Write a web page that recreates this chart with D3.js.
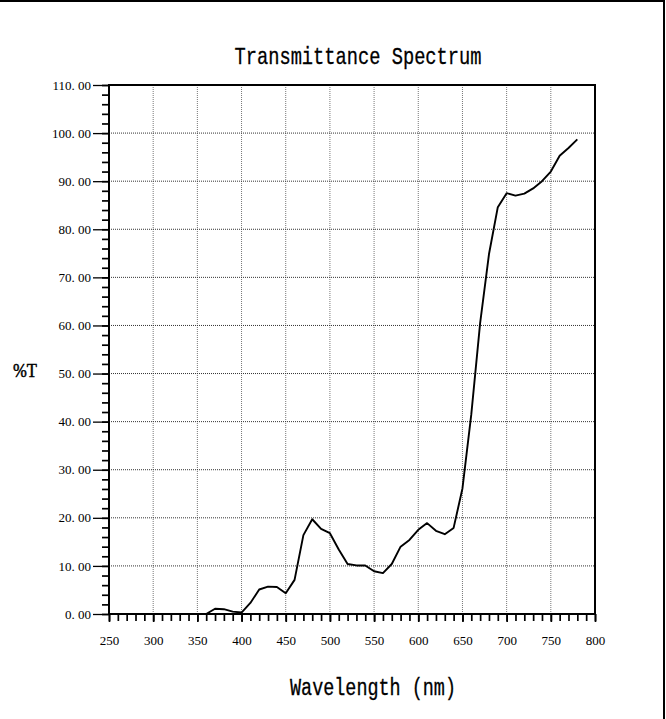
<!DOCTYPE html>
<html>
<head>
<meta charset="utf-8">
<script src="https://cdn.jsdelivr.net/npm/d3@7"></script>
<style>
  body { margin: 0; background: #fff; }
  text { fill: #000; }
  .label { font-family: "Liberation Mono", "DejaVu Sans Mono", monospace; }
  .tick text { font-family: "Liberation Serif", "DejaVu Serif", serif; }
</style>
</head>
<body>
<svg id="chart" width="666" height="719"></svg>
<script>
// =====================
// Data (wavelength in nm, transmittance in %)
// =====================
const wavelengths = [250, 260, 270, 280, 290, 300, 310, 320, 330, 340, 350, 360, 370, 380, 390,
  400, 410, 420, 430, 440, 450, 460, 470, 480, 490, 500, 510, 520, 530, 540, 550, 560, 570,
  580, 590, 600, 610, 620, 630, 640, 650, 660, 670, 680, 690, 700, 710, 720, 730, 740, 750,
  760, 770, 780];
const transmittance = [0, 0, 0, 0, 0, 0, 0, 0, 0, 0, 0, 0, 1.1, 1.0, 0.5,
  0.3, 2.3, 5.1, 5.7, 5.6, 4.3, 7.1, 16.4, 19.7, 17.7, 16.8, 13.4, 10.4, 10.1, 10.1, 8.9, 8.5, 10.4,
  14.0, 15.4, 17.5, 18.9, 17.3, 16.6, 17.9, 26.1, 41.5, 60.5, 74.8, 84.6, 87.5, 87.0, 87.4, 88.5, 90.0, 92.0,
  95.3, 96.9, 98.7];
const xTickValues = [250, 300, 350, 400, 450, 500, 550, 600, 650, 700, 750, 800];
const yTickValues = [0, 10, 20, 30, 40, 50, 60, 70, 80, 90, 100, 110];

const
  title = "Transmittance Spectrum",
  xLabel = "Wavelength (nm)",
  yLabel = "%T";

// =====================
// Plot box
// =====================
const
  plotLeft = 109, plotRight = 595,   // x of 250 nm and 800 nm
  plotTop = 85, plotBottom = 614;    // y of 110 % and 0 %

const svg = d3.select('#chart');

// Window frame: only top and right edges show
svg.append('path')
  .attr('d', 'M0,1H664V719')
  .attr('fill', 'none')
  .attr('stroke', '#000')
  .attr('stroke-width', 2);

const
  xScale = d3.scaleLinear([250, 800], [plotLeft, plotRight]),
  yScale = d3.scaleLinear([0, 110], [plotBottom, plotTop]);

// =====================
// Grid lines (dotted)
// =====================
svg.append('g')
  .selectAll('line')
  .data(xTickValues.slice(1, -1))
  .enter()
  .append('line')
  .attr('x1', d => xScale(d)).attr('x2', d => xScale(d))
  .attr('y1', plotTop).attr('y2', plotBottom)
  .attr('stroke', '#777')
  .attr('stroke-dasharray', '1,1');

svg.append('g')
  .selectAll('line')
  .data(yTickValues.slice(1, -1))
  .enter()
  .append('line')
  .attr('x1', plotLeft).attr('x2', plotRight)
  .attr('y1', d => yScale(d)).attr('y2', d => yScale(d))
  .attr('stroke', '#333')
  .attr('stroke-dasharray', '1,1');

// =====================
// Axes: minor ticks first, then major ticks with labels
// =====================
const xMinor = d3.range(250, 801, 10),
  yMinor = d3.range(0, 111, 2);

svg.append('g')
  .attr('transform', 'translate(0,' + plotBottom + ')')
  .call(d3.axisBottom(xScale).tickValues(xMinor).tickSize(7).tickFormat(''))
  .call(g => g.select('.domain').remove())
  .call(g => g.selectAll('line').attr('stroke-width', 1.7));

svg.append('g')
  .attr('transform', 'translate(0,' + plotBottom + ')')
  .call(d3.axisBottom(xScale).tickValues(xTickValues).tickSize(8).tickPadding(14).tickFormat(d3.format('d')))
  .call(g => g.select('.domain').remove())
  .call(g => g.selectAll('line').attr('stroke-width', 1.7))
  .call(g => g.selectAll('text').style('font-size', '13px'));

svg.append('g')
  .attr('transform', 'translate(' + plotLeft + ',0)')
  .call(d3.axisLeft(yScale).tickValues(yMinor).tickSize(7).tickFormat(''))
  .call(g => g.select('.domain').remove())
  .call(g => g.selectAll('line').attr('stroke-width', 1.7));

svg.append('g')
  .attr('transform', 'translate(' + plotLeft + ',0)')
  .call(d3.axisLeft(yScale).tickValues(yTickValues).tickSize(16).tickPadding(2).tickFormat(d => d3.format('.2f')(d).replace('.', '. ')))
  .call(g => g.select('.domain').remove())
  .call(g => g.selectAll('line').attr('stroke-width', 1.3))
  .call(g => g.selectAll('text').style('font-size', '13px'));

// Plot box border
svg.append('rect')
  .attr('x', plotLeft).attr('y', plotTop)
  .attr('width', plotRight - plotLeft).attr('height', plotBottom - plotTop)
  .attr('fill', 'none')
  .attr('stroke', '#000')
  .attr('stroke-width', 2);

// =====================
// Spectrum line
// =====================
const line = d3.line()
  .x((d, i) => xScale(wavelengths[i]))
  .y(d => yScale(d));

svg.append('path')
  .datum(transmittance)
  .attr('d', line)
  .attr('fill', 'none')
  .attr('stroke', '#000')
  .attr('stroke-width', 1.9)
  .attr('stroke-linejoin', 'round');

// =====================
// Titles
// =====================
svg.append('text')
  .attr('class', 'label')
  .text(title)
  .attr('x', 358).attr('y', 64)
  .attr('text-anchor', 'middle')
  .attr('textLength', 247)
  .attr('lengthAdjust', 'spacingAndGlyphs')
  .style('font-size', '24px')
  .style('stroke', '#000').style('stroke-width', 0.3);

svg.append('text')
  .attr('class', 'label')
  .text(xLabel)
  .attr('x', 373).attr('y', 695)
  .attr('text-anchor', 'middle')
  .attr('textLength', 166)
  .attr('lengthAdjust', 'spacingAndGlyphs')
  .style('font-size', '23px')
  .style('stroke', '#000').style('stroke-width', 0.3);

svg.append('text')
  .attr('class', 'label')
  .text(yLabel)
  .attr('x', 13).attr('y', 377)
  .attr('textLength', 24)
  .attr('lengthAdjust', 'spacingAndGlyphs')
  .style('font-size', '19px')
  .style('font-family', '"Liberation Serif", serif')
  .style('stroke', '#000').style('stroke-width', 0.5);
</script>
</body>
</html>
